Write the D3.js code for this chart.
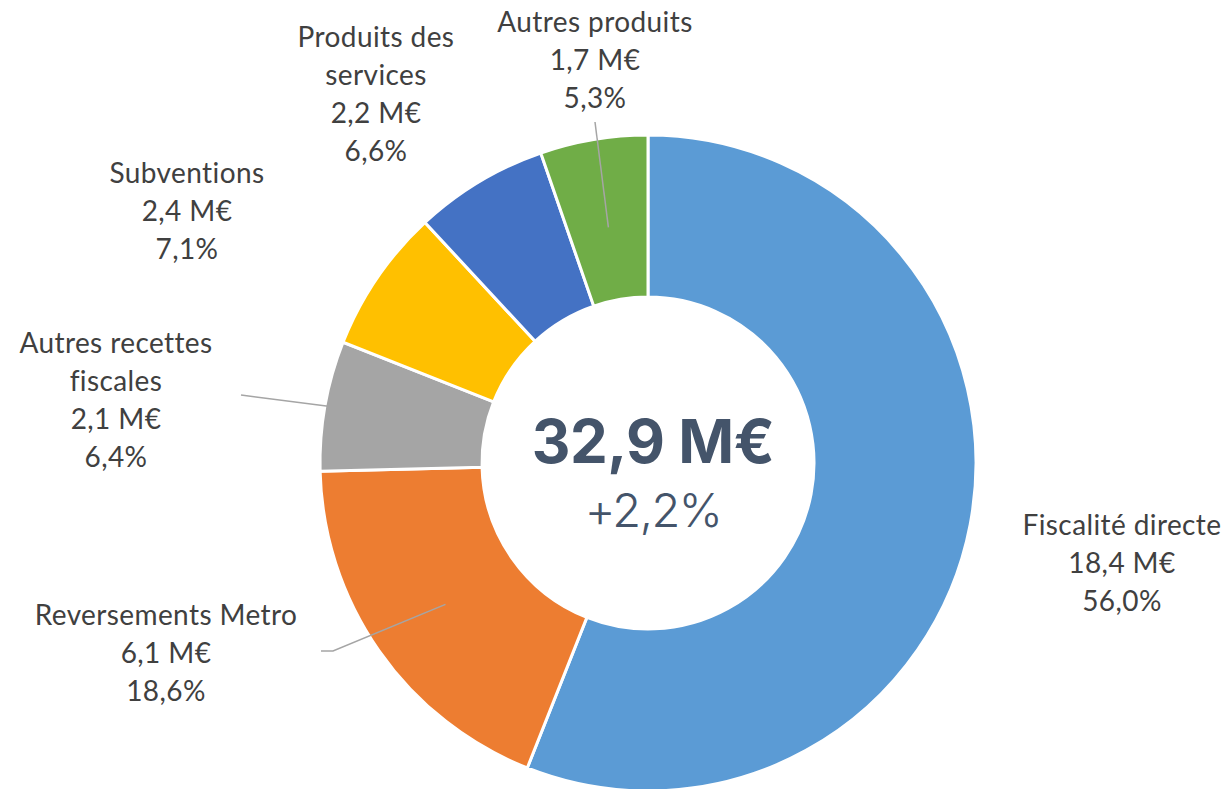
<!DOCTYPE html>
<html lang="fr">
<head>
<meta charset="UTF-8">
<title>Recettes</title>
<style>
  body { margin: 0; background: #fff; }
  svg { display: block; }
</style>
</head>
<body>
<script src="https://d3js.org/d3.v7.min.js"></script>
<script>
// data
var categories = ["Fiscalité directe", "Reversements Metro", "Autres recettes fiscales",
                  "Subventions", "Produits des services", "Autres produits"];
var amounts = [18.4, 6.1, 2.1, 2.4, 2.2, 1.7];      // M€
var shares  = [56.0, 18.6, 6.4, 7.1, 6.6, 5.3];     // %
var colors  = ["#5B9BD5", "#ED7D31", "#A5A5A5", "#FFC000", "#4472C4", "#70AD47"];
var total = "32,9 M€";
var change = "+2,2%";

// label lines (category name may be split on two lines)
var labelLines = [["Fiscalité directe"], ["Reversements Metro"], ["Autres recettes", "fiscales"],
                  ["Subventions"], ["Produits des", "services"], ["Autres produits"]];
// label centre x and first baseline y
var labelPos = [[1122, 535], [166, 625], [116, 353], [187, 183], [376, 47], [595, 32]];

var W = 1225, H = 789;
var cx = 648, cy = 463, rOut = 328, rIn = 166;

var svg = d3.select("body").append("svg")
    .attr("width", W)
    .attr("height", H);

var g = svg.append("g").attr("transform", "translate(" + cx + "," + cy + ")");

var pie = d3.pie().sort(null).value(function (d) { return d; });
var arcs = pie(shares);
var arc = d3.arc().innerRadius(rIn).outerRadius(rOut);

g.selectAll("path.slice")
    .data(arcs)
    .enter().append("path")
    .attr("class", "slice")
    .attr("d", arc)
    .attr("fill", function (d, i) { return colors[i]; })
    .attr("stroke", "#fff")
    .attr("stroke-width", 3);

// leader lines: from the label to a point inside the slice
function inside(i, frac) {
    var a = (arcs[i].startAngle + arcs[i].endAngle) / 2;
    var r = rIn + (rOut - rIn) * frac;
    return [cx + r * Math.sin(a), cy - r * Math.cos(a)];
}
var leaders = [
    { i: 5, pts: [[595, 122]], frac: 0.45 },
    { i: 2, pts: [[241, 395]], frac: 0.98 },
    { i: 1, pts: [[321, 651], [333, 651]], frac: 0.5 }
];
leaders.forEach(function (l) {
    var pts = l.pts.concat([inside(l.i, l.frac)]);
    svg.append("path")
        .attr("d", d3.line()(pts))
        .attr("fill", "none")
        .attr("stroke", "#A5A5A5")
        .attr("stroke-width", 1.5);
});

// labels
var fmt = function (v) { return v.toFixed(1).replace(".", ","); };
categories.forEach(function (c, i) {
    var lines = labelLines[i].concat([fmt(amounts[i]) + " M€", fmt(shares[i]) + "%"]);
    var t = svg.append("text")
        .attr("x", labelPos[i][0])
        .attr("y", labelPos[i][1])
        .attr("text-anchor", "middle")
        .attr("font-family", "Lato, 'Open Sans', sans-serif")
        .attr("font-size", 28)
        .attr("letter-spacing", 0.4)
        .attr("fill", "#404040");
    lines.forEach(function (s, k) {
        t.append("tspan")
            .attr("x", labelPos[i][0])
            .attr("dy", k === 0 ? 0 : 38)
            .text(s);
    });
});

// centre text
svg.append("text")
    .attr("x", 653).attr("y", 463)
    .attr("text-anchor", "middle")
    .attr("font-family", "Inter, 'DejaVu Sans', sans-serif")
    .attr("font-weight", 700)
    .attr("font-size", 60)
    .attr("letter-spacing", -0.5)
    .attr("fill", "#44546A")
    .text(total);
svg.append("text")
    .attr("x", 653).attr("y", 527)
    .attr("text-anchor", "middle")
    .attr("font-family", "Inter, 'DejaVu Sans', sans-serif")
    .attr("font-weight", 300)
    .attr("font-size", 47)
    .attr("letter-spacing", -1.5)
    .attr("fill", "#44546A")
    .text(change);
</script>
</body>
</html>
